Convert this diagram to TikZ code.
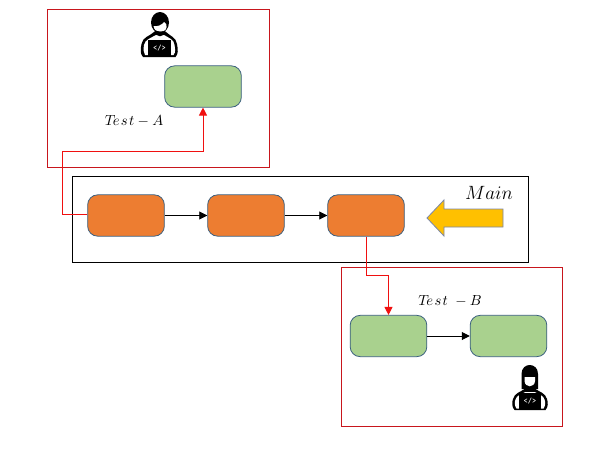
\documentclass[tikz,border=0pt]{standalone}
\usetikzlibrary{arrows.meta}
\definecolor{frameRed}{HTML}{C8161D}
\definecolor{linkRed}{HTML}{F01010}
\definecolor{greenFill}{HTML}{A9D18E}
\definecolor{orangeFill}{HTML}{ED7D31}
\definecolor{boxEdge}{HTML}{3A5F7F}
\definecolor{yellowFill}{HTML}{FFC000}
\definecolor{arrowEdge}{HTML}{7A86A8}
\tikzset{
  frameR/.style={draw=frameRed,line width=.75pt,fill=none},
  frameK/.style={draw=black,line width=.75pt,fill=none},
  greenbox/.style={draw=boxEdge,line width=.6pt,fill=greenFill,rounded corners=7.5pt,minimum width=57.5pt,minimum height=31pt,inner sep=0pt},
  orangebox/.style={greenbox,fill=orangeFill},
  blacklink/.style={draw=black,line width=.7pt,-{Triangle[length=6pt,width=6pt]}},
  redlink/.style={draw=linkRed,line width=.75pt,-{Triangle[length=6pt,width=6pt]}},
  lab/.style={inner sep=0pt,text=black},
  laptopglyph/.style={inner sep=0pt,text=white,font=\ttfamily\fontsize{6}{6}\selectfont\bfseries},
  maledev/.pic={
    % body outline
    \fill[black] (-15,32) .. controls (-18,29) and (-17.5,24) .. (-16.5,19) .. controls (-15.5,12) and (-8,11) .. (-4,7) -- (8,7) .. controls (12,11) and (18,12) .. (19,19) .. controls (20,24) and (20.5,29) .. (17.5,32) -- cycle;
    \fill[white] (-13,30) .. controls (-15,27) and (-14.5,24) .. (-14,20) .. controls (-13,14.5) and (-7,13) .. (-2,10) -- (6,10) .. controls (11,13) and (16,14.5) .. (16.5,20) .. controls (17,24) and (18,27) .. (15.5,30) -- cycle;
    % head
    \fill[black] (2,-2.5) ellipse [x radius=9,y radius=10.5];
    \fill[white] (-4.5,1) .. controls (-1,2) and (4,0) .. (6,-3) .. controls (8,-2) and (9,0) .. (8.6,2) .. controls (8,6) and (5,7) .. (2,6.5) .. controls (-1,7) and (-4,5) .. (-4.5,1) -- cycle;
    % neck line
    \draw[black,line width=1.1pt] (-3,6) .. controls (-1,12) and (5,12) .. (7,6);
    % laptop
    \fill[black] (-10,15) rectangle (13,32);
    \node[laptopglyph] (#1glyph) at (1.5,23.5) {</>};
  },
  femaledev/.pic={
    % body outline
    \fill[black] (-15,44) .. controls (-18,41) and (-17.5,36) .. (-16.5,33) .. controls (-15,27) and (-9,26) .. (-5,23) -- (6,23) .. controls (10,26) and (16,27) .. (17.5,33) .. controls (18.5,36) and (19,41) .. (16,44) -- cycle;
    \fill[white] (-13,42.5) .. controls (-15,40) and (-15,36) .. (-14,33.5) .. controls (-13,29.5) and (-8,28) .. (-4,26) -- (5,26) .. controls (9,28) and (14,29.5) .. (15,33.5) .. controls (16,36) and (16,40) .. (14,42.5) -- cycle;
    % hair
    \fill[black] (-8,23) -- (-8,8) .. controls (-8,-4) and (8.5,-4) .. (8.5,8) -- (8.5,23) -- cycle;
    % face
    \fill[white] (-5,11) -- (5.5,11) -- (5.5,15) .. controls (5,22) and (-4.5,22) .. (-5,15) -- cycle;
    % laptop
    \fill[black] (-10.5,27) rectangle (11.5,44);
    \node[laptopglyph] (#1glyph) at (0.5,35.5) {</>};
  }
}
\begin{document}
\begin{tikzpicture}[x=.75pt,y=-.75pt]
\useasboundingbox (0,0) rectangle (596,464);
\fill[white] (0,0) rectangle (596,464);
% frames
\node[frameR,minimum width=166.5pt,minimum height=118.5pt,inner sep=0pt] (frameA) at (158,88) {};
\node[frameK,minimum width=342pt,minimum height=64.5pt,inner sep=0pt] (frameMain) at (300,219) {};
\node[frameR,minimum width=165.75pt,minimum height=119.25pt,inner sep=0pt] (frameB) at (451.5,346.5) {};
% boxes
\node[greenbox] (ga) at (203,86.5) {};
\node[orangebox] (o1) at (126,215.5) {};
\node[orangebox] (o2) at (246,215.5) {};
\node[orangebox] (o3) at (366,215.5) {};
\node[greenbox] (b1) at (388.5,336) {};
\node[greenbox] (b2) at (508.5,336) {};
% connectors
\draw[blacklink] (o1) -- (o2);
\draw[blacklink] (o2) -- (o3);
\draw[blacklink] (b1) -- (b2);
\draw[redlink] ([yshift=1pt]o1.west) -| (62,151) -| (ga.south);
\draw[redlink] (o3.south) |- (388.5,275) -- (b1.north);
% main arrow
\draw[draw=arrowEdge,line width=.6pt,fill=yellowFill] (503,209) -- (444,209) -- (444,200) -- (427,218) -- (444,236) -- (444,227) -- (503,227) -- cycle;
% labels
\node[lab] (labA) at (134,121) {\fontsize{11}{13}\selectfont$T\!e\hspace{1pt}s\hspace{1pt}t-A$};
\node[lab] (labB) at (450,301) {\fontsize{11}{13}\selectfont$T\!e\hspace{1pt}s\hspace{1pt}t\;-B$};
\node[lab] (labMain) at (489,193) {\fontsize{14.4}{16}\selectfont$Main$};
% developers
\pic (devA) at (158,25) {maledev};
\pic (devB) at (529.5,366) {femaledev};
\end{tikzpicture}
\end{document}
